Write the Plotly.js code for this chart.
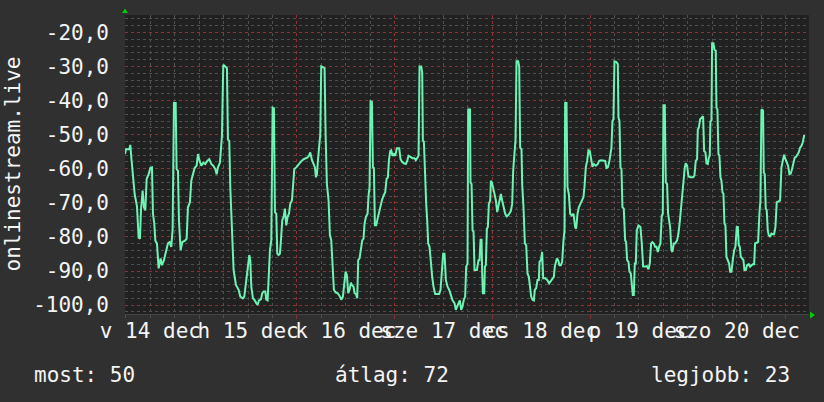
<!DOCTYPE html>
<html>
<head>
<meta charset="utf-8">
<script src="https://cdn.plot.ly/plotly-3.0.1.min.js"></script>
<style>
html,body{margin:0;padding:0;background:#303030;}
#chart{width:824px;height:402px;}
</style>
</head>
<body>
<div id="chart"></div>
<script>
// hours since 14 Dec 00:00
const hours = [
5.76,6.0,6.82,7.07,7.31,7.72,8.13,8.7,9.11,9.44,9.68,10.09,10.42,10.75,11.08,11.57,11.98,12.39,12.63,12.96,13.2,13.61,14.02,14.51,14.84,15.33,15.82,16.31,16.72,17.13,17.46,17.78,18.2,18.44,18.77,19.01,19.42,19.83,20.57,20.9,21.22,21.71,22.04,22.37,22.86,23.35,23.68,24.09,24.5,24.99,25.48,25.97,26.46,26.95,27.44,27.93,28.26,28.59,29.08,29.57,29.9,30.39,30.8,31.04,31.37,31.62,32.02,32.43,33.01,
33.67,34.08,34.73,35.06,35.31,35.71,36.04,36.29,36.53,36.78,37.19,37.52,38.01,38.33,38.66,39.15,39.48,39.81,40.22,40.46,40.79,41.03,41.36,41.69,42.02,42.34,42.59,42.92,43.16,43.49,43.82,44.06,44.39,44.72,45.04,45.37,45.7,46.03,46.35,46.76,47.01,47.34,47.83,48.4,48.97,49.63,50.2,50.61,50.94,51.26,51.67,52.08,52.41,52.65,52.9,53.14,53.47,53.72,53.96,54.45,54.78,55.03,55.35,55.76,56.09,56.42,56.75,57.07,57.48,57.97,58.46,58.87,59.28,59.61,59.94,60.26,60.59,60.92,61.25,
61.49,61.9,62.14,62.47,62.8,63.04,63.37,63.7,64.03,64.35,64.6,64.93,65.34,65.58,65.83,66.07,66.4,66.65,66.89,67.14,67.46,67.79,68.04,68.45,68.85,69.26,69.67,70.0,70.33,70.57,70.9,71.15,71.47,71.8,72.13,72.54,73.11,73.44,73.76,74.26,74.75,75.07,75.4,75.89,76.38,76.87,77.2,77.61,77.86,78.1,78.51,78.76,78.92,79.17,79.41,79.74,79.98,80.23,80.56,80.88,81.21,81.54,81.95,82.44,82.93,83.26,83.58,83.91,84.24,84.57,84.98,85.38,85.79,86.2,86.69,87.02,87.35,87.68,88.0,88.33,88.66,88.99,89.31,89.56,89.89,90.05,90.5,
90.62,90.88,91.12,91.37,91.61,92.19,92.59,92.84,93.09,93.33,93.49,93.66,93.99,94.15,94.39,94.64,94.89,95.13,95.46,95.62,95.87,96.2,96.52,96.85,97.18,97.5,97.75,98.08,98.4,98.73,99.14,99.55,100.04,100.53,100.86,101.1,101.43,101.68,101.92,102.33,102.58,102.82,103.15,103.31,103.64,103.97,104.3,104.62,104.95,105.28,105.52,105.85,106.18,106.42,106.75,107.08,107.41,107.57,107.9,108.22,108.47,108.96,109.45,109.94,110.27,110.68,111.09,111.33,111.58,111.83,112.15,112.48,112.81,113.13,113.46,113.71,113.87,114.2,114.44,114.77,115.1,115.51,115.92,116.33,116.57,116.9,117.23,117.55,
117.96,118.37,118.61,118.94,119.27,119.6,119.92,120.25,120.58,120.91,121.4,121.89,122.22,122.71,123.28,123.69,124.02,124.34,124.67,125.0,125.24,125.49,125.73,125.98,126.47,126.8,126.96,127.21,127.45,127.7,127.94,128.27,128.6,128.84,129.09,129.42,129.66,129.99,130.23,130.48,130.73,130.97,131.22,131.46,131.87,132.36,132.69,133.02,133.51,133.92,134.33,134.65,134.98,135.31,135.64,135.96,136.29,136.62,136.95,137.27,137.6,137.85,138.01,138.34,138.58,138.91,139.15,139.4,139.65,139.97,140.22,140.55,140.87,141.36,141.69,142.02,142.35,142.67,143.0,143.25,143.49,143.82,144.15,144.64,145.29,145.62,145.95,146.27,
146.45,146.69,147.02,147.35,147.75,148.0,148.33,148.57,148.9,149.15,149.39,149.55,149.8,149.96,150.29,150.54,150.86,151.03,151.27,151.52,151.76,152.01,152.26,152.5,152.75,152.99,153.24,153.48,153.81,154.14,154.38,154.71,155.04,155.37,155.69,156.02,156.27,156.51,156.76,157.0,157.33,157.66,157.9,158.23,158.56,158.97,159.29,159.62,159.95,160.28,160.52,160.85,161.26,161.58,161.83,162.08,162.48,162.65,162.89,163.14,163.38,163.63,163.88,164.2,164.53,164.86,165.19,165.51,165.84,166.25,166.66,166.99,167.31,167.64,167.97,168.29,168.62,168.95,169.28,169.6,169.93,170.26,170.59,170.91,171.24,171.57,171.9,172.22,172.55,172.8
];
const values = [
-55.7,-54.3,-54.3,-53,-56.7,-61.6,-67.4,-71,-80.2,-80.5,-72.2,-66.4,-71.3,-72.2,-63,-61.6,-59.8,-59.6,-73.2,-76.1,-81,-81.9,-89.2,-86.3,-88.3,-86.8,-83.9,-81.9,-81.5,-82.9,-77.6,-40.7,-40.7,-60.1,-60.6,-75.1,-83.9,-81.5,-81,-80.5,-71.3,-69.8,-63.5,-61.6,-59.8,-59.1,-55.7,-57.7,-59.1,-58.2,-58.6,-57.7,-57.2,-58.6,-59.1,-60.1,-61.6,-59.6,-58.2,-50.4,-29.5,-30,-30.5,-51.4,-51.8,-65.4,-78.1,-89.7,-94.1,
-95.5,-97.5,-98,-97.5,-95,-91.7,-88.7,-85.3,-86.8,-94.6,-98,-98.4,-99.4,-99.9,-98.6,-98.3,-96.5,-96,-96,-98.4,-98.6,-92.1,-83.9,-81,-42.1,-42.3,-72.7,-73.2,-84.9,-85.3,-84.9,-81,-75.1,-74.1,-71.7,-76.6,-74.1,-73.2,-70.3,-69.3,-65.9,-60.1,-59.6,-58.6,-57.9,-57.2,-57,-56.7,-56.2,-55.2,-57.4,-58.6,-59.6,-62.5,-61.6,-57.7,-51.4,-49.9,-30,-30.2,-30.5,-49.9,-64.5,-69.3,-79.5,-81,-89.2,-95.5,-96.3,-96.5,-97.3,-98.4,-97.5,-94.6,-90.2,-91.2,-96.5,-95.5,-93.4,
-94.1,-94.6,-96.5,-96.7,-98,-86.8,-86.3,-83.9,-81,-80.5,-76.1,-74.1,-73.2,-67.9,-65.4,-40.2,-40.4,-59.6,-59.8,-76.6,-76.6,-74.7,-73.2,-71.7,-69.3,-67.9,-66.9,-63,-62.5,-57.7,-54.8,-54.6,-56.2,-55.7,-56.2,-54,-54,-57.2,-57.9,-58.4,-58.6,-57.7,-56.2,-56.5,-56.9,-56.9,-57.5,-56.7,-56.2,-30,-30,-31.7,-51.8,-52,-61.6,-70.3,-75.1,-81.9,-82.9,-87.8,-91.7,-94.6,-96.7,-96.7,-96.7,-95.5,-89.2,-84.9,-84.9,-92.6,-94.6,-95.5,-97,-98.6,-99.4,-101.4,-100.4,-99.4,-98.6,-101.4,-100.4,-98.4,-97.5,-88.7,-87.8,-42.6,-42.6,
-64,-64.5,-78.1,-78.5,-89.7,-89.7,-86.8,-86.8,-80.8,-80.8,-90.7,-96.5,-96.5,-88.7,-88.3,-77.6,-77.1,-70.3,-69.3,-63.5,-64,-66.4,-67.4,-69.3,-72.7,-70.8,-69.3,-67.4,-69.3,-71.5,-73.2,-74,-73.4,-72.4,-70.3,-60.6,-53.3,-51.4,-28.5,-28.5,-30,-53.8,-54.3,-64.5,-71.3,-81.9,-82.4,-90.7,-91.7,-94.6,-97.5,-98.4,-98.6,-95.5,-95,-92.6,-92.6,-87.3,-86.8,-84.4,-92.1,-92.1,-92.6,-93.6,-93.1,-92.3,-91.7,-88.7,-87.3,-86.3,-86.8,-88.3,-88.3,-87.3,-81,-78.1,-40.7,-40.7,-65.4,-67.4,-73.2,-73.7,-73.2,-77.1,-77.6,-73.2,-71.3,-70.3,
-69.3,-68.3,-65.4,-59.6,-57.7,-54.6,-54.8,-56.7,-59.4,-58.6,-59.1,-58.6,-57.7,-57.5,-57.5,-57.7,-59.8,-59.6,-58.2,-54.8,-53.8,-46,-45.5,-28.5,-28.7,-29.3,-45,-46,-59.6,-60.1,-71.3,-71.7,-81,-81.5,-86.8,-87.3,-90.2,-90.7,-94.6,-97,-97,-87.8,-87.8,-78.1,-76.6,-77.1,-81.9,-88.7,-88.7,-88.5,-89.5,-87.8,-81.9,-81.5,-81.9,-82.9,-82.9,-84.4,-82.9,-81.9,-73.7,-73.2,-41.4,-41.4,-64,-64.5,-73.2,-74.7,-77.1,-83.9,-84.4,-81.9,-81.9,-81,-79,-75.6,-70.8,-67.4,-62,-59.6,-58.4,-59.1,-62.3,-62.5,-62.5,-62,-57.7,-57.2,
-48.4,-48,-45.5,-45,-44.6,-54.8,-55.2,-58.4,-58.6,-56.7,-56.2,-46.2,-45.8,-23.2,-23.2,-25.1,-25.4,-42.1,-42.6,-55.7,-56.2,-62.5,-63.5,-66.9,-67.4,-76.1,-76.6,-85.8,-86.8,-87.8,-90.2,-90.2,-86.8,-83.9,-82.9,-77.1,-77.1,-82.4,-82.9,-85.8,-86.3,-86.8,-89.7,-89.7,-88.3,-88,-88.7,-88.3,-88,-88,-81.9,-81.7,-81.5,-73.2,-69.3,-42.6,-42.9,-61.1,-61.6,-71.7,-72.2,-78.1,-79.5,-80,-79,-79.2,-79.2,-77.1,-69.8,-69.6,-69.3,-59.6,-57.7,-55.9,-57.2,-58.2,-59.1,-61.6,-61.4,-60.1,-58.2,-56.7,-56.5,-55.7,-55.2,-53.8,-53.3,-52.3,-50.4,-50.4
];

const dayStarts = [24, 48, 72, 96, 120, 144, 168];
const labelHours = [12, 36, 60, 84, 108, 132, 156];
const dayLabels = ["v 14 dec", "h 15 dec", "k 16 dec", "sze 17 dec", "cs 18 dec", "p 19 dec", "szo 20 dec"];
const yTicks = [-100, -90, -80, -70, -60, -50, -40, -30, -20];
const yLabels = ["-100,0", "-90,0", "-80,0", "-70,0", "-60,0", "-50,0", "-40,0", "-30,0", "-20,0"];
const seriesName = "onlinestream.live";
const statLabels = ["most:", "átlag:", "legjobb:"];
const statValues = [50, 72, 23];

const FONT = "DejaVu Sans Mono";
const FS = 21;
const TXT = "#f4f4f4";
const xRange = [5.76, 173.76];

const trace = {
  x: hours, y: values, type: "scatter", mode: "lines",
  line: {color: "#6cf4b4", width: 2},
  hoverinfo: "skip"
};
// empty carrier trace so the label axis (x2) is drawn
const labelCarrier = {
  x: labelHours, y: labelHours.map(() => null), xaxis: "x2", yaxis: "y",
  type: "scatter", mode: "lines", hoverinfo: "skip", showlegend: false
};

const layout = {
  width: 824, height: 402,
  margin: {l: 125, r: 15, t: 15, b: 88},
  paper_bgcolor: "#303030",
  plot_bgcolor: "#212121",
  showlegend: false,
  font: {family: FONT, size: FS, color: TXT},
  xaxis: {
    range: xRange, tickmode: "array", tickvals: dayStarts, showticklabels: false,
    showgrid: true, gridcolor: "rgba(150,45,45,0.85)", griddash: "dot", gridwidth: 1,
    ticks: "outside", ticklen: 4, tickcolor: "#8a3030",
    zeroline: false, showline: true, linecolor: "#444",
    minor: {tick0: 0, dtick: 6, showgrid: true, gridcolor: "#505050", griddash: "dot", gridwidth: 1,
            ticks: "outside", ticklen: 3, tickcolor: "#505050"}
  },
  xaxis2: {
    overlaying: "x", anchor: "y", side: "bottom", range: xRange,
    tickmode: "array", tickvals: labelHours, ticktext: dayLabels, tickangle: 0,
    showgrid: false, zeroline: false, ticks: "", showline: false, ticklabelstandoff: 2,
    tickfont: {family: FONT, size: FS, color: TXT}
  },
  yaxis: {
    range: [-102.6, -14.9], tickmode: "array", tickvals: yTicks, ticktext: yLabels,
    showgrid: true, gridcolor: "rgba(150,45,45,0.85)", griddash: "dot", gridwidth: 1,
    ticks: "", zeroline: false, showline: false, ticklabelstandoff: 15,
    tickfont: {family: FONT, size: FS, color: TXT},
    minor: {tick0: 0, dtick: 2, showgrid: true, gridcolor: "#505050", griddash: "dot", gridwidth: 1}
  },
  annotations: [
    {xref: "paper", yref: "paper", x: -0.1652, y: 0.5, text: seriesName, textangle: -90,
     showarrow: false, xanchor: "center", yanchor: "middle", font: {family: FONT, size: FS, color: TXT}},
    {xref: "paper", yref: "paper", x: -0.1345, y: -0.204, text: statLabels[0] + " " + statValues[0],
     showarrow: false, xanchor: "left", yanchor: "middle", borderpad: 0, font: {family: FONT, size: FS, color: TXT}},
    {xref: "paper", yref: "paper", x: 0.3056, y: -0.204, text: statLabels[1] + " " + statValues[1],
     showarrow: false, xanchor: "left", yanchor: "middle", borderpad: 0, font: {family: FONT, size: FS, color: TXT}},
    {xref: "paper", yref: "paper", x: 0.9737, y: -0.204, text: statLabels[2] + " " + statValues[2],
     showarrow: false, xanchor: "right", yanchor: "middle", borderpad: 0, font: {family: FONT, size: FS, color: TXT}}
  ],
  shapes: [
    {type: "path", xref: "paper", yref: "paper", path: "M -0.0044 1.0067 L 0.0044 1.0067 L 0 1.022 Z",
     fillcolor: "#00cc00", line: {width: 0}},
    {type: "path", xref: "paper", yref: "paper", path: "M 1.0015 0.0084 L 1.0015 -0.015 L 1.0088 -0.0033 Z",
     fillcolor: "#00cc00", line: {width: 0}}
  ]
};

Plotly.newPlot("chart", [trace, labelCarrier], layout, {staticPlot: true, displayModeBar: false});
</script>
</body>
</html>
